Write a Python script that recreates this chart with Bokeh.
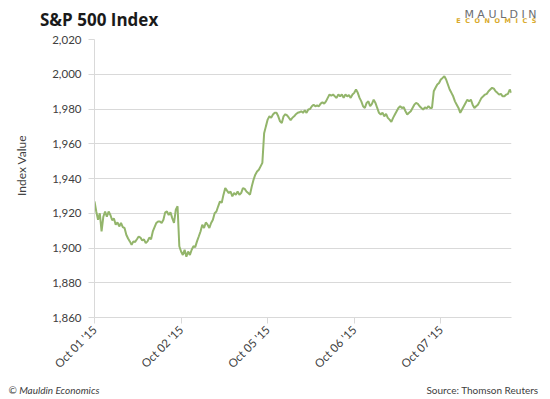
import math
from bokeh.plotting import figure
from bokeh.layouts import column, row
from bokeh.models import Range1d, FixedTicker, Label, NumeralTickFormatter, ColumnDataSource
from bokeh.embed import file_html
from bokeh.resources import INLINE

# ---- data ----
day_labels = ["Oct 01 '15", "Oct 02 '15", "Oct 05 '15", "Oct 06 '15", "Oct 07 '15"]
tick_every = 49          # samples between axis labels

oct01 = [1926.8, 1921, 1916.3, 1920, 1909.5, 1918, 1921, 1918, 1921, 1919,
         1916, 1917, 1913.4, 1914.7, 1912.4, 1914.4, 1912, 1911.5, 1907.6, 1905.5,
         1903.8, 1901.8, 1903.8, 1903.5, 1905, 1906.6, 1906, 1904.3, 1905, 1902.8,
         1903.8, 1906, 1905, 1909.5, 1912, 1914.4, 1915.3, 1915.3, 1914.4, 1916.3,
         1920.5, 1921, 1919, 1920.5, 1917.2, 1914.4, 1922, 1924]
oct02 = [1901, 1898, 1896, 1899, 1895, 1898, 1896, 1899, 1901, 1900.5,
         1903.8, 1906.6, 1909.5, 1913.4, 1911.5, 1914.7, 1913.4, 1911.5, 1914.4, 1916.3,
         1920, 1921, 1924, 1926.8, 1926, 1930.7, 1934.5, 1933, 1931.6, 1932.5,
         1929.7, 1931.6, 1930.7, 1932.5, 1930.7, 1931.6, 1934.5, 1934, 1932.5, 1931.6,
         1930.7, 1935.4, 1939.3, 1942.2, 1944, 1945, 1947, 1949]
oct05 = [1966, 1970, 1973.9, 1975.8, 1975, 1976.8, 1977.8, 1977.8, 1975.8, 1972.9,
         1972, 1975.8, 1977, 1976.3, 1975, 1973.5, 1975, 1975.8, 1977, 1977.8,
         1978.1, 1978.7, 1977.8, 1979.3, 1977.8, 1979.7, 1980, 1981.6, 1982.5, 1981.6,
         1982, 1981.6, 1983.1, 1983.9, 1983.1, 1984.4, 1986.4, 1988.3, 1987.7, 1988.3,
         1987.3, 1986.4, 1988.3, 1987.3, 1988.3, 1986.4, 1988.3, 1987.3]
oct06 = [1988, 1986.4, 1988.3, 1989.3, 1991.2, 1989.3, 1986.4, 1984.4, 1981.6, 1980.6,
         1983.5, 1984.4, 1981.6, 1983, 1985.4, 1983.5, 1980.6, 1977.8, 1976.8, 1977.8,
         1975.8, 1977.2, 1974.9, 1973.9, 1972.6, 1974.9, 1976.8, 1978.7, 1980.6, 1981.6,
         1980.6, 1981, 1978.7, 1976.8, 1977.8, 1978.7, 1980.6, 1982.5, 1983.5, 1983,
         1981.6, 1980.6, 1979.7, 1981, 1980.3, 1981.6, 1980.6, 1980.6]
oct07 = [1990.2, 1992.2, 1994.1, 1995, 1997, 1997.9, 1998.9, 1997, 1994.1, 1991.2,
         1989.3, 1987.3, 1984.4, 1982.5, 1980.6, 1977.8, 1979.7, 1981.6, 1983.5, 1985.4,
         1984.4, 1985.4, 1982.5, 1980.6, 1981.6, 1982.5, 1984.4, 1986.4, 1987.3, 1988.3,
         1988.7, 1990.2, 1991.2, 1992.2, 1991.7, 1990.2, 1989.3, 1988.3, 1988.7, 1987.3,
         1987.3, 1988.3, 1988.7, 1991.2, 1989.3]

y_ticks = [1860, 1880, 1900, 1920, 1940, 1960, 1980, 2000, 2020]

values = oct01 + oct02 + oct05 + oct06 + oct07
sample = list(range(len(values)))
src = ColumnDataSource(dict(sample=sample, value=values))

TOTAL_W = 548
TOP_H = 30
MAIN_H = 349
FOOT_H = 18
LEFT_W = 40


def band(w, h):
    f = figure(width=w, height=h, output_backend="svg", toolbar_location=None,
               x_range=Range1d(0, w), y_range=Range1d(0, h),
               x_axis_type=None, y_axis_type=None,
               min_border_left=0, min_border_right=0, min_border_top=0, min_border_bottom=0)
    f.outline_line_color = None
    f.grid.visible = False
    f.background_fill_color = "white"
    f.border_fill_color = "white"
    return f


# ---- main chart ----
p = figure(width=TOTAL_W - LEFT_W, height=MAIN_H, output_backend="svg", toolbar_location=None,
           x_range=Range1d(0, len(values) - 1), y_range=Range1d(1860, 2020),
           min_border_left=54, min_border_right=37, min_border_top=9, min_border_bottom=62)
p.outline_line_color = None
p.background_fill_color = "white"
p.border_fill_color = "white"

p.line("sample", "value", source=src, line_color="#93b56b", line_width=2)

grid_col = "#d9d9d9"
p.xgrid.visible = False
p.ygrid.grid_line_color = grid_col
p.ygrid.grid_line_width = 1

ya = p.yaxis[0]
ya.ticker = FixedTicker(ticks=y_ticks)
ya.formatter = NumeralTickFormatter(format="0,0")
ya.axis_line_color = grid_col
ya.major_tick_line_color = grid_col
ya.major_tick_out = 6
ya.major_tick_in = 0
ya.minor_tick_line_color = None
ya.major_label_text_font = "Lato"
ya.major_label_text_font_size = "11.5px"
ya.major_label_text_color = "#404040"
ya.major_label_standoff = 7

xa = p.xaxis[0]
xt = [i * tick_every for i in range(len(day_labels))]
xa.ticker = FixedTicker(ticks=xt)
xa.major_label_overrides = {t: lab for t, lab in zip(xt, day_labels)}
xa.major_label_orientation = math.pi / 4
xa.axis_line_color = grid_col
xa.major_tick_line_color = grid_col
xa.major_tick_out = 6
xa.major_tick_in = 0
xa.minor_tick_line_color = None
xa.major_label_text_font = "Lato"
xa.major_label_text_font_size = "11.5px"
xa.major_label_text_color = "#404040"
xa.major_label_standoff = 4

# ---- top band: title and logo (screen px from band's bottom-left) ----
top = band(TOTAL_W, TOP_H)
top.add_layout(Label(x=39.5, y=11, x_units="screen", y_units="screen",
                     text="S&P 500 Index", text_font="Open Sans",
                     text_font_style="bold", text_font_size="17px", text_color="#1a1a1a",
                     text_baseline="alphabetic"))
top.add_layout(Label(x=536, y=16.5, x_units="screen", y_units="screen",
                     text="M A U L D I N", text_font="DejaVu Sans",
                     text_font_size="11px", text_color="#6d6e71",
                     text_align="right", text_baseline="alphabetic"))
top.add_layout(Label(x=536, y=9.5, x_units="screen", y_units="screen",
                     text="E\u00a0\u00a0C\u00a0\u00a0O\u00a0\u00a0N\u00a0\u00a0O\u00a0\u00a0M\u00a0\u00a0I\u00a0\u00a0C\u00a0\u00a0S",
                     text_font="DejaVu Sans", text_font_style="bold",
                     text_font_size="6.5px", text_color="#d9aa2c",
                     text_align="right", text_baseline="alphabetic"))

# ---- left band: axis title (its frame is aligned with the chart's frame) ----
left = band(LEFT_W, MAIN_H)
left.add_layout(Label(x=21, y=152, x_units="screen", y_units="screen",
                      text="Index Value", angle=math.pi / 2,
                      text_font="Lato", text_font_size="12px", text_color="#404040",
                      text_align="center", text_baseline="middle"))

# ---- footer band ----
foot = band(TOTAL_W, FOOT_H)
foot.add_layout(Label(x=8, y=8, x_units="screen", y_units="screen",
                      text="\u00a9 Mauldin Economics", text_font="Lato",
                      text_font_style="italic", text_font_size="10px", text_color="#404040",
                      text_baseline="alphabetic"))
foot.add_layout(Label(x=538, y=8, x_units="screen", y_units="screen",
                      text="Source: Thomson Reuters", text_font="Lato",
                      text_font_size="10px", text_color="#404040",
                      text_align="right", text_baseline="alphabetic"))

layout = column(top, row(left, p, spacing=0), foot, spacing=0)
open("out.html", "w").write(file_html(layout, INLINE))
